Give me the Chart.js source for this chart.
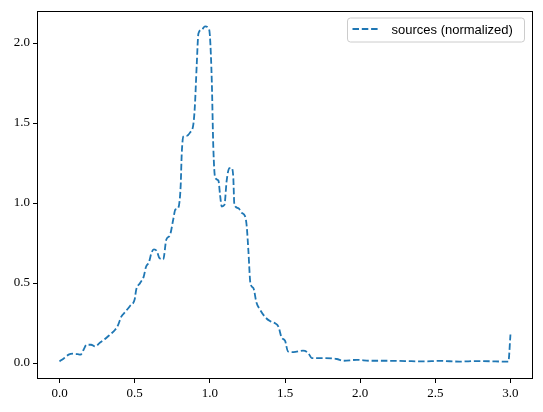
<!DOCTYPE html>
<html>
<head>
<meta charset="utf-8">
<script src="https://cdn.jsdelivr.net/npm/chart.js@4.4.1/dist/chart.umd.min.js"></script>
<style>
  html, body { margin: 0; padding: 0; background: #fff; }
  #wrap { width: 543px; height: 412px; }
</style>
</head>
<body>
<div id="wrap"><canvas id="myLineChart" width="543" height="412"></canvas></div>
<script>
// values
const xValues = [0.00, 0.03, 0.06, 0.09, 0.12, 0.14, 0.16, 0.18, 0.21, 0.236, 0.27, 0.30, 0.336, 0.37, 0.39,
    0.41, 0.436, 0.47, 0.50, 0.51, 0.536, 0.56, 0.575, 0.595, 0.612, 0.628, 0.647, 0.665, 0.69, 0.71,
    0.735, 0.757, 0.77, 0.79, 0.806, 0.813, 0.824, 0.846, 0.868, 0.89, 0.90, 0.913, 0.924, 0.946, 0.968,
    0.99, 1.0, 1.013, 1.023, 1.035, 1.057, 1.068, 1.079, 1.097, 1.112, 1.13, 1.146, 1.156, 1.163, 1.19,
    1.21, 1.234, 1.245, 1.256, 1.27, 1.29, 1.31, 1.334, 1.367, 1.40, 1.434, 1.456, 1.478, 1.50, 1.52,
    1.556, 1.62, 1.655, 1.678, 1.755, 1.844, 1.89, 1.977, 2.066, 2.18, 2.30, 2.42, 2.53, 2.66, 2.78,
    2.90, 2.986, 3.0];
const yValues = [0.010, 0.030, 0.052, 0.058, 0.055, 0.052, 0.083, 0.114, 0.114, 0.104, 0.128, 0.148, 0.178, 0.208, 0.238,
    0.288, 0.318, 0.358, 0.398, 0.458, 0.500, 0.540, 0.600, 0.630, 0.690, 0.710, 0.700, 0.655, 0.648, 0.770,
    0.800, 0.900, 0.958, 0.970, 1.110, 1.310, 1.415, 1.420, 1.440, 1.490, 1.600, 1.870, 2.060, 2.083, 2.104,
    2.093, 2.050, 1.760, 1.350, 1.160, 1.140, 1.050, 0.978, 0.988, 1.140, 1.218, 1.218, 1.160, 0.990, 0.968,
    0.940, 0.918, 0.858, 0.708, 0.498, 0.468, 0.378, 0.333, 0.288, 0.262, 0.248, 0.228, 0.158, 0.140, 0.072,
    0.068, 0.077, 0.062, 0.031, 0.031, 0.025, 0.014, 0.020, 0.014, 0.014, 0.012, 0.010, 0.013, 0.009, 0.012,
    0.010, 0.008, 0.178];
const xTicks = [0, 0.5, 1.0, 1.5, 2.0, 2.5, 3.0];
const yTicks = [0, 0.5, 1.0, 1.5, 2.0];
const seriesLabel = 'sources (normalized)';

const lineColor = '#1f77b4';
const tickFont = { family: "'Liberation Serif', 'DejaVu Serif', serif", size: 13 };

// box around the plot, like matplotlib spines
const frameBox = {
    id: 'frameBox',
    afterDraw(chart) {
        const a = chart.chartArea;
        const ctx = chart.ctx;
        ctx.save();
        ctx.strokeStyle = '#000';
        ctx.lineWidth = 1;
        ctx.strokeRect(Math.round(a.left) + 0.5, Math.round(a.top) + 0.5,
            Math.round(a.right - a.left) - 1, Math.round(a.bottom - a.top) - 1);
        ctx.restore();
    }
};

// legend inside the top-right corner
const innerLegend = {
    id: 'innerLegend',
    afterDraw(chart) {
        const ctx = chart.ctx;
        const a = chart.chartArea;
        const w = 177, h = 24;
        const x = a.right - 9 - w, y = a.top + 6.5;
        ctx.save();
        ctx.beginPath();
        ctx.roundRect(x + 0.5, y + 0.5, w, h, 3);
        ctx.fillStyle = 'rgba(255,255,255,0.8)';
        ctx.fill();
        ctx.strokeStyle = '#cccccc';
        ctx.lineWidth = 1;
        ctx.stroke();

        ctx.beginPath();
        ctx.setLineDash([6.5, 2.8]);
        ctx.strokeStyle = lineColor;
        ctx.lineWidth = 1.8;
        ctx.moveTo(x + 5.5, y + 11.5);
        ctx.lineTo(x + 33, y + 11.5);
        ctx.stroke();
        ctx.setLineDash([]);

        ctx.fillStyle = '#000';
        ctx.font = "13px 'Liberation Sans', Arial, sans-serif";
        ctx.textBaseline = 'middle';
        ctx.fillText(seriesLabel, x + 44.5, y + 12.5);
        ctx.restore();
    }
};

function renderLineChart() {
    const ctx = document.getElementById('myLineChart').getContext('2d');

    const points = xValues.map((v, i) => ({ x: v, y: yValues[i] }));

    new Chart(ctx, {
        type: 'line',
        data: {
            datasets: [{
                label: seriesLabel,
                data: points,
                borderColor: lineColor,
                borderWidth: 1.8,
                borderDash: [6.5, 2.8],
                pointRadius: 0,
                fill: false,
                cubicInterpolationMode: 'monotone'
            }]
        },
        options: {
            responsive: false,
            animation: false,
            layout: { padding: { top: 11, right: 10, left: 0, bottom: 0 } },
            plugins: {
                legend: { display: false },
                tooltip: { enabled: false }
            },
            scales: {
                x: {
                    type: 'linear',
                    min: -0.15,
                    max: 3.15,
                    afterBuildTicks: (scale) => { scale.ticks = xTicks.map(v => ({ value: v })); },
                    afterFit: (scale) => { scale.height = 33; },
                    ticks: {
                        color: '#000',
                        font: tickFont,
                        padding: 3,
                        maxRotation: 0,
                        autoSkip: false,
                        callback: (v) => Number(v).toFixed(1)
                    },
                    grid: { display: true, drawOnChartArea: false, drawTicks: true, tickLength: 4, color: '#000' },
                    border: { display: false }
                },
                y: {
                    min: -0.1,
                    max: 2.2,
                    afterBuildTicks: (scale) => { scale.ticks = yTicks.map(v => ({ value: v })); },
                    afterFit: (scale) => { scale.width = 37; },
                    ticks: {
                        color: '#000',
                        font: tickFont,
                        padding: 3,
                        autoSkip: false,
                        callback: (v) => Number(v).toFixed(1)
                    },
                    grid: { display: true, drawOnChartArea: false, drawTicks: true, tickLength: 4, color: '#000' },
                    border: { display: false }
                }
            }
        },
        plugins: [frameBox, innerLegend]
    });
}

renderLineChart();
</script>
</body>
</html>
